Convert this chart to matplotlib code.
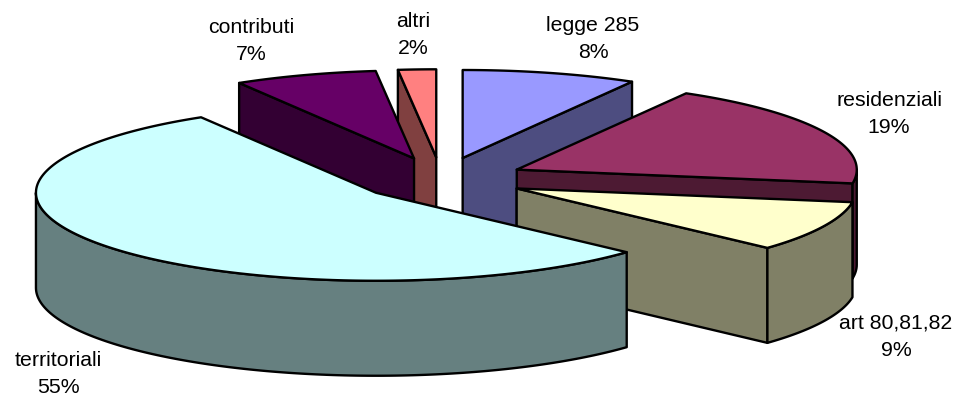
import numpy as np
import matplotlib
matplotlib.use('Agg')
import matplotlib.pyplot as plt
from matplotlib.patches import Polygon

plt.rcParams['font.family'] = ['Liberation Sans', 'DejaVu Sans']

names = ['legge 285', 'residenziali', 'art 80,81,82', 'territoriali', 'contributi', 'altri']
shares = [8.3, 19.2, 9.3, 54.6, 6.8, 1.8]
top_colors = ['#9999FF', '#993366', '#FFFFCC', '#CCFFFF', '#660066', '#FF8080']
side_colors = ['#4D4D80', '#4D1A33', '#808066', '#668080', '#330033', '#804040']

# back slices first so the front ones paint over them
draw_order = [0, 5, 4, 1, 2, 3]

# pie geometry in pixels
cx, cy = 441, 179
rx, ry = 340, 88
depth = 95
explode = 0.247
lw = 1.7

label_pos = [(593, 39), (889, 114), (896, 337), (58, 374), (251, 41), (413, 35)]

fig = plt.figure(figsize=(9.66, 3.98), dpi=100)
ax = fig.add_axes([0, 0, 1, 1])
ax.set_xlim(0, 966)
ax.set_ylim(398, 0)
ax.axis('off')


def rim(t1, t2, ox, oy, dy=0):
    t = np.linspace(t1, t2, max(int(abs(t2 - t1) * 60), 2))
    return np.column_stack([ox + rx * np.sin(t), oy - ry * np.cos(t) + dy])


def face(points, color, z):
    ax.add_patch(Polygon(points, closed=True, facecolor=color, edgecolor='black',
                         linewidth=lw, joinstyle='round', zorder=z))


edges = np.cumsum([0] + shares) / sum(shares) * 2 * np.pi

for z, i in enumerate(draw_order):
    t1, t2 = edges[i], edges[i + 1]
    mid = (t1 + t2) / 2
    ox = cx + explode * rx * np.sin(mid)
    oy = cy - explode * ry * np.cos(mid)
    apex = np.array([ox, oy])
    down = np.array([0, depth])

    # radial walls, only the ones turned towards the viewer
    if np.sin(t2) > 0.01:
        p = rim(t2, t2, ox, oy)[0]
        face([apex, p, p + down, apex + down], side_colors[i], z * 10)
    if np.sin(t1) < -0.01:
        p = rim(t1, t1, ox, oy)[0]
        face([apex, p, p + down, apex + down], side_colors[i], z * 10)

    # outer wall, front half of the ellipse only
    a, b = max(t1, np.pi / 2), min(t2, 3 * np.pi / 2)
    if b > a:
        upper = rim(a, b, ox, oy)
        lower = rim(b, a, ox, oy, depth)
        face(np.vstack([upper, lower]), side_colors[i], z * 10 + 1)

    # top of the slice
    face(np.vstack([apex, rim(t1, t2, ox, oy)]), top_colors[i], z * 10 + 2)

for name, share, (x, y) in zip(names, shares, label_pos):
    ax.text(x, y, f'{name}\n{share:.0f}%', ha='center', va='center', fontsize=15.3,
            linespacing=1.55, color='black', zorder=100)

fig.savefig('out.png', dpi=100, facecolor='white')
